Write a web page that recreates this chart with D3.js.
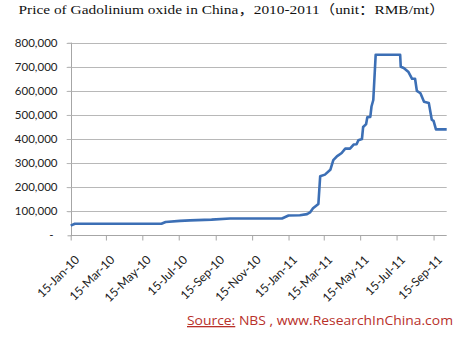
<!DOCTYPE html>
<html><head><meta charset="utf-8">
<script src="https://cdn.jsdelivr.net/npm/d3@7"></script>
<style>
html,body{margin:0;padding:0;background:#fff;}
svg{display:block;}
</style>
</head><body>
<svg id="chart" width="462" height="338"></svg>
<script>
const titleText = "Price of Gadolinium oxide in China，2010-2011（unit：RMB/mt）";
const dates = ["2010-01-15","2010-01-22","2010-06-16","2010-06-23","2010-07-17","2010-08-03","2010-09-08","2010-10-09",
"2011-01-04","2011-01-15","2011-02-03","2011-02-15","2011-02-20","2011-02-25","2011-03-06","2011-03-09","2011-03-17",
"2011-03-26","2011-03-31","2011-04-06","2011-04-14","2011-04-20","2011-04-28","2011-05-04","2011-05-09","2011-05-12",
"2011-05-18","2011-05-20","2011-05-25","2011-05-27","2011-06-01","2011-06-03","2011-06-06","2011-06-10","2011-07-21",
"2011-07-22","2011-07-27","2011-08-04","2011-08-10","2011-08-15","2011-08-18","2011-08-24","2011-08-30","2011-09-07",
"2011-09-12","2011-09-15","2011-09-19","2011-10-07"];
const prices = [40000,48000,48000,55000,60000,62000,65000,70000,
70000,82000,83000,88000,95000,112000,130000,245000,252000,
272000,312000,328000,342000,360000,360000,377000,378000,395000,
400000,450000,462000,490000,492000,535000,562000,750000,750000,
700000,695000,678000,650000,650000,600000,590000,555000,550000,
480000,475000,440000,440000];
const yTicks = [0,100000,200000,300000,400000,500000,600000,700000,800000];
const xTickLabels = ["15-Jan-10","15-Mar-10","15-May-10","15-Jul-10","15-Sep-10","15-Nov-10","15-Jan-11","15-Mar-11","15-May-11","15-Jul-11","15-Sep-11"];
const sourceLabel = "Source:";
const sourceRest = " NBS , www.ResearchInChina.com";

const parse = d3.timeParse("%Y-%m-%d");
const parseTick = d3.timeParse("%d-%b-%y");
const data = dates.map((d,i)=>({date:parse(d), value:prices[i]}));

const svg = d3.select("#chart");
const mLeft = 70.7, mRight = 446.7, mTop = 42.7, mBottom = 235.3;

const x = d3.scaleTime().domain([parse("2010-01-15"), parse("2011-10-07")]).range([mLeft, mRight]);
const y = d3.scaleLinear().domain([0, 800000]).range([mBottom, mTop]);

// title
svg.append("text").attr("x", 18.5).attr("y", 14)
  .attr("textLength", 426).attr("lengthAdjust","spacingAndGlyphs")
  .style("font-family", "'Liberation Serif','Noto Sans CJK SC',serif")
  .style("font-size", "13px").attr("fill", "#111").text(titleText);

// gridlines
svg.append("g").selectAll("line").data(yTicks.filter(d=>d>0)).join("line")
  .attr("x1", mLeft-4).attr("x2", mRight).attr("y1", d=>Math.round(y(d))+0.5).attr("y2", d=>Math.round(y(d))+0.5)
  .attr("stroke", "#b8b8b8").attr("stroke-width", 1);

// y axis
const yAxis = d3.axisLeft(y).tickValues(yTicks).tickSize(4).tickPadding(10)
  .tickFormat(d => d === 0 ? "-" : d3.format(",")(d));
const gy = svg.append("g").attr("transform", `translate(${Math.round(mLeft)+0.5},0)`).call(yAxis);
gy.select(".domain").attr("stroke", "#a6a6a6").attr("d", `M0,${mTop}V${Math.round(mBottom)+0.5}`);
gy.selectAll(".tick line").attr("stroke", "#a6a6a6");
gy.selectAll(".tick").filter(d=>d>0).select("line").attr("stroke","#b8b8b8");
gy.selectAll(".tick text").style("font-family","Lato,'Open Sans',sans-serif").style("font-size","11.5px").attr("fill","#222");
gy.selectAll(".tick").filter(d=>d===0).select("text").attr("x", -18);

// x axis
const xAxis = d3.axisBottom(x).tickValues(xTickLabels.map(parseTick)).tickSize(5).tickFormat(d3.timeFormat("%d-%b-%y"));
const gx = svg.append("g").attr("transform", `translate(0,${Math.round(mBottom)+0.5})`).call(xAxis);
gx.select(".domain").attr("stroke", "#a6a6a6").attr("d", `M${mLeft},0H${mRight}`);
gx.selectAll(".tick line").attr("stroke", "#a6a6a6");
gx.selectAll(".tick text")
  .style("font-family","Lato,'Open Sans',sans-serif").style("font-size","12px").attr("fill","#222")
  .attr("text-anchor","end").attr("y",0).attr("dy","0.35em")
  .attr("transform","translate(6,22) rotate(-45)");

// line
svg.append("path").datum(data)
  .attr("fill","none").attr("stroke","#3c6fb5").attr("stroke-width",2.6).attr("stroke-linejoin","round")
  .attr("d", d3.line().x(d=>x(d.date)).y(d=>y(d.value)));

// source
const src = svg.append("text").attr("x", 187).attr("y", 325)
  .attr("textLength", 266).attr("lengthAdjust","spacingAndGlyphs")
  .style("font-family","'Open Sans',Lato,sans-serif").style("font-size","13px").attr("fill","#b8302a");
src.append("tspan").attr("text-decoration","underline").text(sourceLabel);
src.append("tspan").text(sourceRest);
</script>
</body></html>
